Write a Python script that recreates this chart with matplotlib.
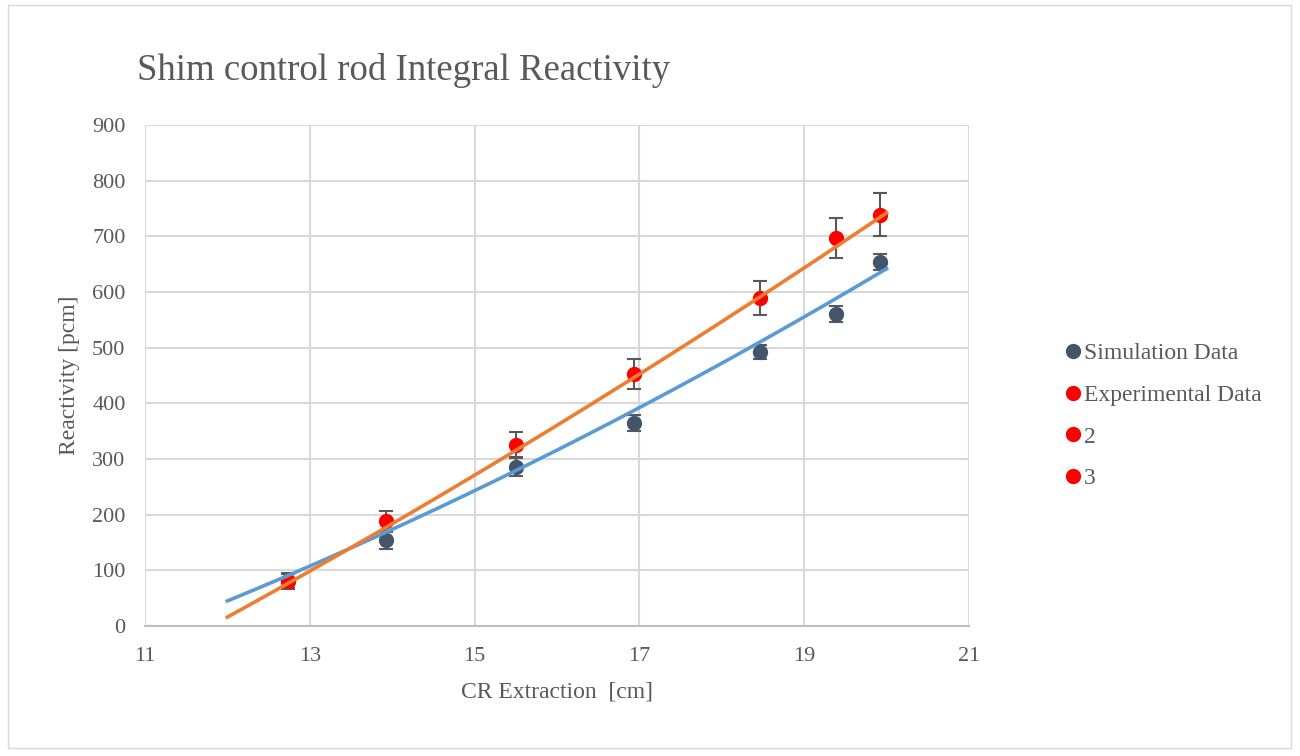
import numpy as np
import matplotlib
matplotlib.use("Agg")
import matplotlib.pyplot as plt
from matplotlib.patches import Rectangle

plt.rcParams['font.family'] = ['Liberation Serif', 'DejaVu Serif']

# Control rod extraction positions [cm]
extraction = [12.74, 13.92, 15.50, 16.93, 18.46, 19.39, 19.92]
# Simulated reactivity [pcm] and uncertainty
sim_values = [81, 154, 285, 365, 492, 560, 654]
sim_err = [13, 15, 16, 14, 13, 14, 14]
# Measured reactivity [pcm] and uncertainty
exp_values = [81, 188, 326, 453, 589, 697, 739]
exp_err = [14, 18, 22, 27, 31, 36, 38]

# Quadratic trendline coefficients (highest power first) and their x extent
sim_trend = [1.72, 19.57, -437.5]
exp_trend = [1.16, 53.66, -795.0]
trend_range = (12, 20)

x_ticks = [11, 13, 15, 17, 19, 21]
y_ticks = [0, 100, 200, 300, 400, 500, 600, 700, 800, 900]

TEXT = '#595959'
GRID = '#D9D9D9'

fig = plt.figure(figsize=(13, 7.56), dpi=100)
fig.patches.append(Rectangle((8 / 1300, 8 / 756), 1283 / 1300, 743 / 756,
                             transform=fig.transFigure, fill=False,
                             edgecolor='#D9D9D9', linewidth=1.0))
ax = fig.add_axes([145 / 1300, 1 - 626 / 756, 824 / 1300, 501 / 756])

sim_h = ax.errorbar(extraction, sim_values, yerr=sim_err, fmt='o',
                    color='#44546A', markersize=10, ecolor='#595959',
                    elinewidth=1.5, capsize=5, capthick=1.5, zorder=3)
exp_h = ax.errorbar(extraction, exp_values, yerr=exp_err, fmt='o',
                    color='#FF0000', markersize=10, ecolor='#595959',
                    elinewidth=1.5, capsize=5, capthick=1.5, zorder=4)

xf = np.linspace(*trend_range, 200)
ax.plot(xf, np.polyval(sim_trend, xf), color='#5B9BD5', linewidth=2.6,
        zorder=5)
ax.plot(xf, np.polyval(exp_trend, xf), color='#ED7D31', linewidth=2.6,
        zorder=5)
h2, = ax.plot([], [], 'o', color='#FF0000', markersize=10)
h3, = ax.plot([], [], 'o', color='#FF0000', markersize=10)

ax.set_xlim(x_ticks[0], x_ticks[-1])
ax.set_ylim(y_ticks[0], y_ticks[-1])
ax.set_xticks(x_ticks)
ax.set_yticks(y_ticks)
ax.grid(True, color=GRID, linewidth=1.5)
ax.set_axisbelow(True)
for side in ['top', 'right', 'left']:
    ax.spines[side].set_visible(False)
ax.spines['bottom'].set_color('#BFBFBF')
ax.spines['bottom'].set_linewidth(1.5)
ax.tick_params(length=0, labelsize=16, labelcolor=TEXT)
ax.tick_params(axis='y', pad=14)
ax.tick_params(axis='x', pad=15)

ax.set_xlabel('CR Extraction  [cm]', fontsize=17, color=TEXT, labelpad=11)
ax.set_ylabel('Reactivity [pcm]', fontsize=17, color=TEXT, labelpad=9)
fig.text(137 / 1300, 1 - 70 / 756, 'Shim control rod Integral Reactivity',
         fontsize=26.5, color=TEXT, va='center', ha='left')

fig.legend([sim_h[0], exp_h[0], h2, h3],
           ['Simulation Data', 'Experimental Data', '2', '3'],
           loc='center left', bbox_to_anchor=(1056 / 1300, 1 - 416 / 756),
           frameon=False, fontsize=17, labelspacing=0.85, handletextpad=0.2,
           handlelength=0.6, labelcolor=TEXT, borderaxespad=0)

fig.savefig('out.png', dpi=100, facecolor='white')
